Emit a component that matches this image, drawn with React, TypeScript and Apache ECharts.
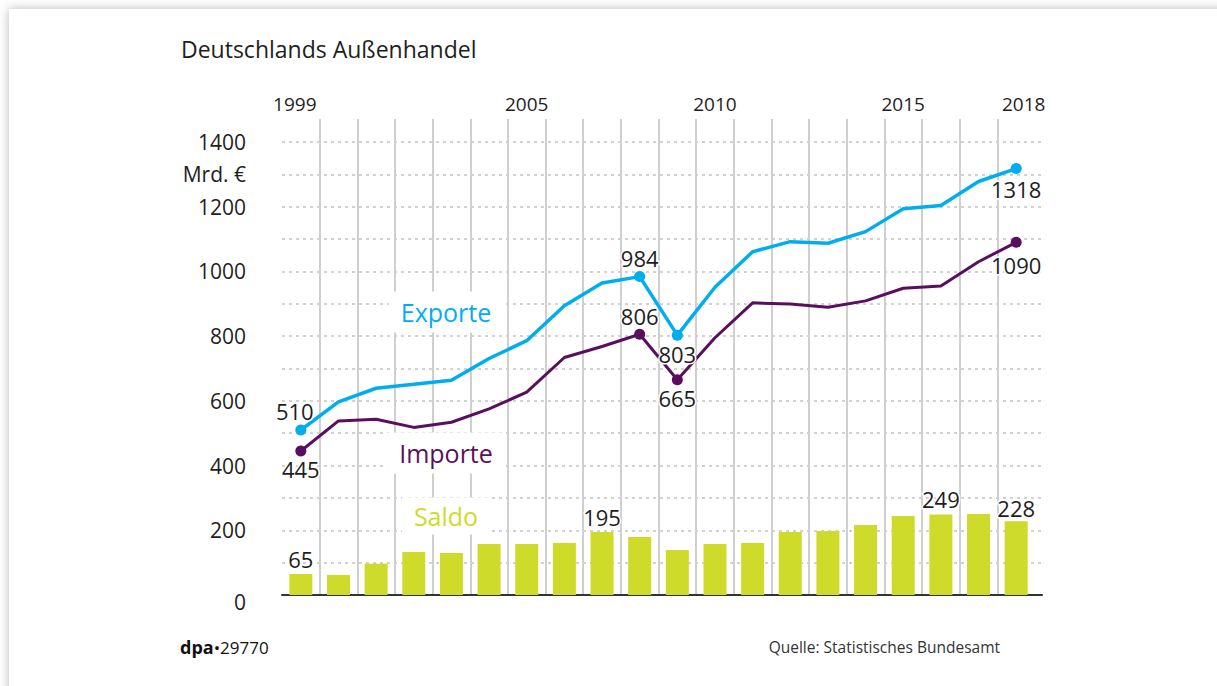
import React, { useEffect, useRef } from "react";
import * as echarts from "echarts";

const years = ["1999","2000","2001","2002","2003","2004","2005","2006","2007","2008","2009","2010","2011","2012","2013","2014","2015","2016","2017","2018"];
const exportsData = [510, 597, 639, 651, 664, 731, 786, 894, 964, 984, 803, 951, 1061, 1092, 1087, 1123, 1194, 1204, 1278, 1318];
const importsData = [445, 538, 543, 518, 534, 575, 627, 734, 768, 806, 665, 795, 903, 899, 889, 909, 948, 955, 1030, 1090];
const saldoData = [65, 62, 97, 133, 130, 158, 158, 161, 195, 179, 139, 158, 161, 195, 198, 216, 244, 249, 250, 228];
const topYearLabels = ["1999", "2005", "2010", "2015", "2018"];
const yTickLabels = [0, 200, 400, 600, 800, 1000, 1200, 1400];
const unitLabel = "Mrd. €";

// which points carry a value label
const exportMarks: Record<number, string> = { 0: "top", 9: "top", 10: "bottom", 19: "bottom" };
const importMarks: Record<number, string> = { 0: "bottom", 9: "top", 10: "bottom", 19: "bottom" };
const saldoMarks = [0, 8, 17, 19];

const BLUE = "#00aeef";
const PURPLE = "#5a0f5e";
const LIME = "#cfdb2a";
const TEXT = "#1e1e1e";
const FONT = "'Open Sans', 'Noto Sans', sans-serif";

const valueLabel = (position: string, distance: number, offset: number[] = [0, 0]) => ({
  show: true,
  position,
  distance,
  offset,
  color: TEXT,
  fontSize: 22,
  fontFamily: FONT,
  textBorderColor: "#fff",
  textBorderWidth: 3,
});

export default function App() {
  const ref = useRef<HTMLDivElement>(null);

  useEffect(() => {
    if (!ref.current) return;
    const chart = echarts.init(ref.current, undefined, { renderer: "svg" });

    const lineData = (vals: number[], marks: Record<number, string>, color: string, extra: Record<number, any>) =>
      vals.map((v, i) => {
        if (marks[i] === undefined) return { value: v, symbol: "none" };
        const e = extra[i] || {};
        return {
          value: v,
          symbol: "circle",
          symbolSize: 11,
          itemStyle: { color },
          label: valueLabel(marks[i], e.dist ?? 2, e.offset ?? [0, 0]),
        };
      });

    const option: any = {
      animation: false,
      textStyle: { fontFamily: FONT },
      grid: [
        { left: 282, top: 142, width: 760, height: 453 },
        { left: 282, top: 119, width: 753, height: 476 },
        { left: 282, top: 142, width: 753, height: 453 },
      ],
      xAxis: [
        {
          gridIndex: 0, type: "value", min: 0, max: 1, position: "bottom",
          axisLine: { show: true, onZero: false, lineStyle: { color: "#333", width: 2 } },
          axisTick: { show: false }, axisLabel: { show: false }, splitLine: { show: false },
        },
        {
          gridIndex: 1, type: "category", data: years, position: "top", boundaryGap: true,
          axisLine: { show: false }, axisTick: { show: false },
          axisLabel: {
            interval: (_i: number, v: string) => topYearLabels.includes(v),
            margin: 6, color: TEXT, fontSize: 19, fontFamily: FONT,
            formatter: (v: string) => (v === "1999" ? "{l|" + v + "}" : v === "2018" ? "{r|" + v + "}" : v),
            rich: {
              l: { fontSize: 19, color: TEXT, fontFamily: FONT, padding: [0, 12, 0, 0] },
              r: { fontSize: 19, color: TEXT, fontFamily: FONT, padding: [0, 0, 0, 15] },
            },
          },
          splitLine: { show: true, interval: 0, showMinLine: false, showMaxLine: false, lineStyle: { color: "#cfcfcf", width: 2 } },
        },
        { gridIndex: 2, type: "category", data: years, show: false, boundaryGap: true },
      ],
      yAxis: [
        {
          gridIndex: 0, type: "value", min: 0, max: 1400, interval: 100,
          axisLine: { show: false }, axisTick: { show: false },
          axisLabel: {
            margin: 36, color: TEXT, fontSize: 21, fontFamily: FONT,
            formatter: (v: number) => {
              if (v === 1300) return unitLabel;
              if (v === 0) return "{z|0}";
              return yTickLabels.includes(v) ? String(v) : "";
            },
            rich: { z: { fontSize: 21, color: TEXT, fontFamily: FONT, padding: [14, 0, 0, 0] } },
          },
          splitLine: { show: true, lineStyle: { color: "#c4c4c4", width: 1.5, type: [3, 4] } },
        },
        { gridIndex: 1, type: "value", min: 0, max: 1, show: false },
        { gridIndex: 2, type: "value", min: 0, max: 1400, show: false },
      ],
      series: [
        {
          type: "bar", name: "Saldo", xAxisIndex: 2, yAxisIndex: 2, barWidth: 23,
          itemStyle: { color: LIME },
          data: saldoData.map((v, i) =>
            saldoMarks.includes(i) ? { value: v, label: valueLabel("top", i === 19 ? 2 : 4) } : v
          ),
        },
        {
          type: "line", name: "Exporte", xAxisIndex: 2, yAxisIndex: 2,
          lineStyle: { color: BLUE, width: 3.5 }, itemStyle: { color: BLUE }, z: 4,
          data: lineData(exportsData, exportMarks, BLUE, { 0: { dist: 2, offset: [-6, 0] }, 19: { dist: 4 } }),
        },
        {
          type: "line", name: "Importe", xAxisIndex: 2, yAxisIndex: 2,
          lineStyle: { color: PURPLE, width: 3 }, itemStyle: { color: PURPLE }, z: 3,
          data: lineData(importsData, importMarks, PURPLE, { 0: { dist: 1 }, 19: { dist: 6 } }),
        },
      ],
      graphic: [
        { type: "text", left: 181, top: 37, z: 10, style: { text: "Deutschlands Außenhandel", fill: TEXT, font: `500 23px ${FONT}` } },
        { type: "text", x: 446, y: 312, z: 10, style: { text: "Exporte", fill: BLUE, font: `25px ${FONT}`, align: "center", verticalAlign: "middle", backgroundColor: "#fff", padding: [8, 12] } },
        { type: "text", x: 446, y: 453, z: 10, style: { text: "Importe", fill: PURPLE, font: `25px ${FONT}`, align: "center", verticalAlign: "middle", backgroundColor: "#fff", padding: [8, 12] } },
        { type: "text", x: 446, y: 516, z: 10, style: { text: "Saldo", fill: LIME, font: `25px ${FONT}`, align: "center", verticalAlign: "middle", backgroundColor: "#fff", padding: [6, 12] } },
        {
          type: "text", left: 180, top: 638, z: 10,
          style: {
            text: "{b|dpa}{n|•29770}",
            rich: {
              b: { fontSize: 18, fontWeight: "bold", fill: "#111", fontFamily: FONT },
              n: { fontSize: 17, fill: "#111", fontFamily: FONT },
            },
          },
        },
        { type: "text", right: 217, top: 639, z: 10, style: { text: "Quelle: Statistisches Bundesamt", fill: "#333", font: `15.5px ${FONT}` } },
      ],
    };

    chart.setOption(option);
    return () => chart.dispose();
  }, []);

  return (
    <div style={{ position: "absolute", left: 0, top: 0, width: 1217, height: 686, overflow: "hidden", background: "#fff" }}>
      <div style={{ position: "absolute", left: 9, top: 9, width: 1260, height: 740, background: "#fff", boxShadow: "0 0 10px rgba(0,0,0,0.28)" }} />
      <div ref={ref} style={{ position: "absolute", left: 0, top: 0, width: 1217, height: 686 }} />
    </div>
  );
}
